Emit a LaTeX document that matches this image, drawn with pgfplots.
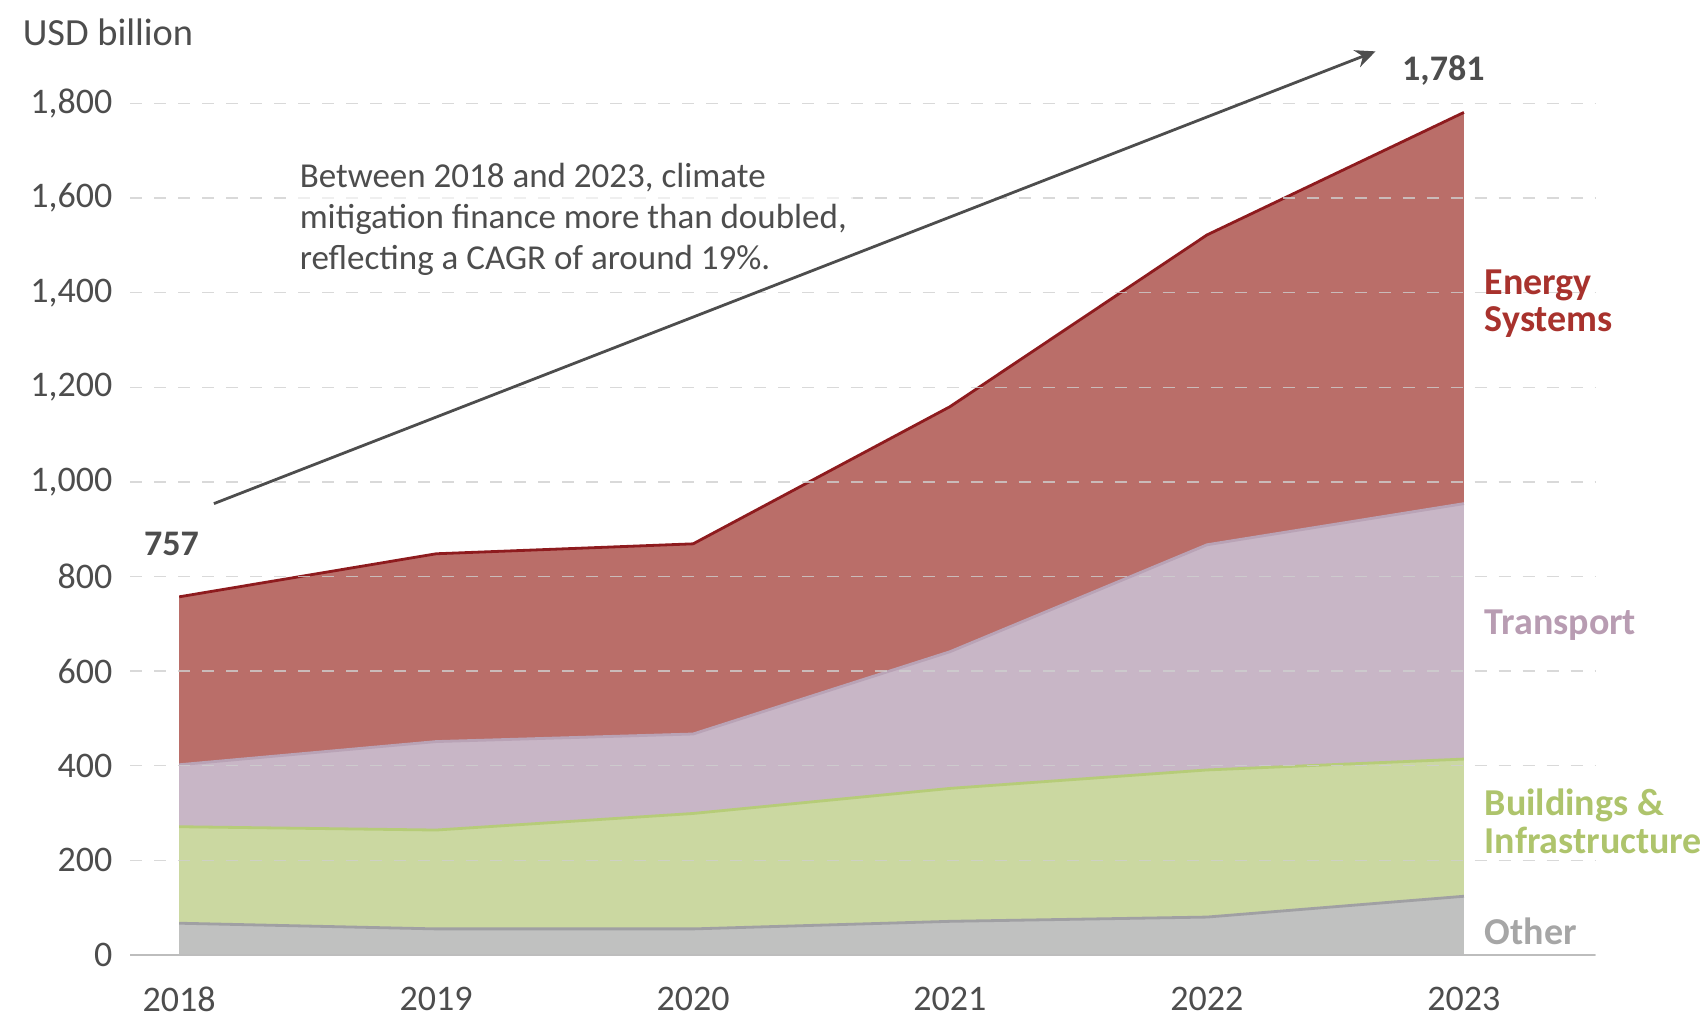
\documentclass[border=0pt]{standalone}
\usepackage{fontspec}
\setmainfont{Carlito}
\usepackage{pgfplots}
\usepackage{pgfplotstable}
\pgfplotsset{compat=1.18}
\usetikzlibrary{arrows.meta}

\definecolor{txt}{HTML}{4D4D4D}
\definecolor{axisgray}{HTML}{BDBDBD}
\definecolor{gridgray}{HTML}{CFCFCF}
\definecolor{enfill}{HTML}{BA6E69}
\definecolor{enline}{HTML}{8E1B1E}
\definecolor{enlab}{HTML}{A8322D}
\definecolor{trfill}{HTML}{C8B6C6}
\definecolor{trline}{HTML}{B9A3B6}
\definecolor{trlab}{HTML}{B89CB2}
\definecolor{bufill}{HTML}{CBD8A1}
\definecolor{buline}{HTML}{B6CC78}
\definecolor{bulab}{HTML}{AEC46C}
\definecolor{otfill}{HTML}{C0C1C0}
\definecolor{otline}{HTML}{A0A0A3}
\definecolor{otlab}{HTML}{A6A6A6}

% cumulative tops of each layer, USD billion
\pgfplotstableread{
year other build trans energy
2018 67 271 402 757
2019 55 264 451 848
2020 55 299 467 869
2021 71 352 641 1159
2022 80 391 867 1522
2023 124 414 954 1781
}\mitig

\newcommand{\tk}{\fontsize{9}{11}\selectfont}

\begin{document}
\begin{tikzpicture}
\useasboundingbox (-32.6pt,-16.3pt) rectangle (393.6pt,238.7pt);
\begin{axis}[at={(0,0)}, anchor=south west, scale only axis,
  width=366.1pt, height=212.85pt,
  xmin=2017.81, xmax=2023.51, ymin=0, ymax=1800,
  axis x line*=bottom, axis y line*=left,
  y axis line style={draw=none},
  x axis line style={draw=axisgray, line width=0.6pt},
  major tick length=0pt,
  xtick={2018,...,2023}, ytick={0,200,...,1800},
  ymajorgrids,
  grid style={dash pattern=on 3pt off 3pt, line width=0.35pt, draw=gridgray, opacity=0.8},
  axis on top, clip=false,
  tick label style={font=\tk, text=txt},
  /pgf/number format/assume math mode=true,
  x tick label style={/pgf/number format/set thousands separator={}, yshift=-4.5pt},
  y tick label style={xshift=-1pt},
]
\addplot[fill=enfill, draw=none] table[x=year, y=energy] {\mitig} \closedcycle;
\addplot[fill=trfill, draw=none] table[x=year, y=trans] {\mitig} \closedcycle;
\addplot[fill=bufill, draw=none] table[x=year, y=build] {\mitig} \closedcycle;
\addplot[fill=otfill, draw=none] table[x=year, y=other] {\mitig} \closedcycle;
\addplot[draw=otline, line width=0.7pt] table[x=year, y=other] {\mitig};
\addplot[draw=buline, line width=0.7pt] table[x=year, y=build] {\mitig};
\addplot[draw=trline, line width=0.7pt] table[x=year, y=trans] {\mitig};
\addplot[draw=enline, line width=0.7pt] table[x=year, y=energy] {\mitig};

\coordinate (a0) at (axis cs:2018.135,954);
\coordinate (a1) at (axis cs:2022.656,1910);
\coordinate (t757) at (axis cs:2017.97,868);
\coordinate (t1781) at (axis cs:2022.92,1869);
\coordinate (note) at (axis cs:2018.466,1680);
\coordinate (len) at (axis cs:2023.078,1377);
\coordinate (ltr) at (axis cs:2023.078,697);
\coordinate (lbu) at (axis cs:2023.078,283);
\coordinate (lot) at (axis cs:2023.078,50);
\end{axis}

\node[anchor=north west, align=left, inner sep=1.5pt, fill=white, fill opacity=0.6,
  text opacity=1, font=\fontsize{8.75}{10.3}\selectfont, text=txt] at ([shift={(-1.5pt,1.0pt)}]note)
  {Between 2018 and 2023, climate\\mitigation finance more than doubled,\\reflecting a CAGR of around 19\%.};
\draw[-{Stealth[length=5pt,width=4.5pt]}, draw=txt, line width=0.7pt] (a0) -- (a1);
\node[font=\fontsize{9}{10}\selectfont\bfseries, text=txt] at (t757) {757};
\node[font=\fontsize{9}{10}\selectfont\bfseries, text=txt] at (t1781) {1,781};
\node[anchor=west, inner sep=0pt, font=\fontsize{9.6}{11}\selectfont, text=txt]
  at (-27.1pt,230.6pt) {USD billion};
\node[anchor=west, align=left, inner sep=0pt, font=\fontsize{9.5}{9.4}\selectfont\bfseries, text=enlab]
  at (len) {Energy\\Systems};
\node[anchor=west, align=left, inner sep=0pt, font=\fontsize{9.5}{9.4}\selectfont\bfseries, text=trlab]
  at (ltr) {Transport};
\node[anchor=west, align=left, inner sep=0pt, font=\fontsize{9.5}{9.4}\selectfont\bfseries, text=bulab]
  at (lbu) {Buildings \&\\Infrastructure};
\node[anchor=west, align=left, inner sep=0pt, font=\fontsize{9.5}{9.4}\selectfont\bfseries, text=otlab]
  at (lot) {Other};
\end{tikzpicture}
\end{document}
